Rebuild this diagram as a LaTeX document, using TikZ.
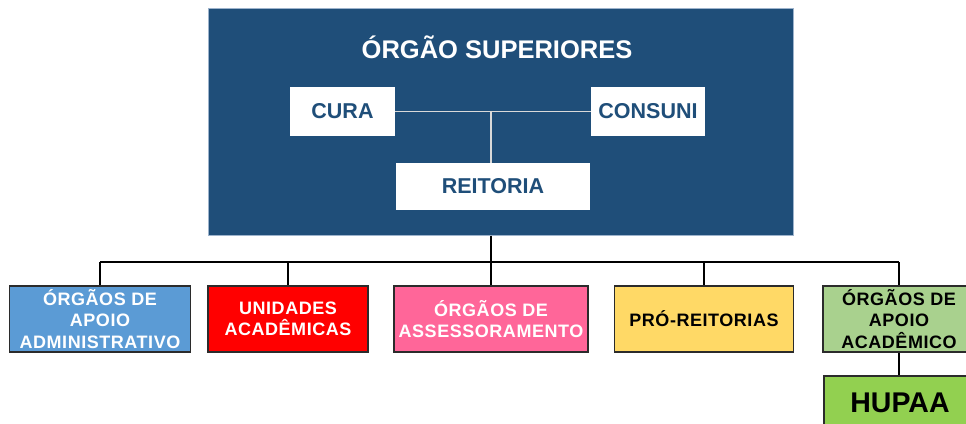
\documentclass[tikz,border=0pt]{standalone}
\usepackage{fontspec}
\setmainfont{Liberation Sans}
\definecolor{navy}{HTML}{1F4E79}
\definecolor{navyedge}{HTML}{9DB3CC}
\definecolor{admblue}{HTML}{5B9BD5}
\definecolor{unired}{HTML}{FF0000}
\definecolor{asspink}{HTML}{FF6699}
\definecolor{proyellow}{HTML}{FFD966}
\definecolor{acagreen}{HTML}{A9D18E}
\definecolor{hugreen}{HTML}{92D050}
\definecolor{edgegray}{HTML}{2B2B2B}
\definecolor{innerline}{HTML}{D9D9D9}
\tikzset{
  whitebox/.style={fill=white, draw=none, inner sep=0pt, text=navy,
    font=\fontsize{21.5}{25}\selectfont\bfseries, minimum height=49pt},
  lowbox/.style={draw=edgegray, line width=1.3pt, inner sep=0pt, align=center,
    minimum height=66pt, font=\fontsize{18}{21.5}\selectfont\bfseries\addfontfeature{LetterSpace=3}},
  innerlink/.style={draw=innerline, line width=1.2pt},
  outerlink/.style={draw=black, line width=1.4pt},
}
\begin{document}
\begin{tikzpicture}[x=1pt,y=-1pt]
\useasboundingbox (0,0) rectangle (966,423);
\fill[white] (0,0) rectangle (966,423);

% top block
\node[fill=navy, draw=navyedge, line width=0.6pt, minimum width=585pt, minimum height=227pt, inner sep=0pt] (top) at (500.5,121.5) {};
\node[text=white, font=\fontsize{25.5}{30}\selectfont\bfseries] (title) at (497,47) {ÓRGÃO SUPERIORES};
\node[whitebox, minimum width=105pt] (cura) at (342.5,111.5) {CURA};
\node[whitebox, minimum width=114pt] (consuni) at (648,111.5) {CONSUNI};
\node[whitebox, minimum width=194pt, minimum height=47pt] (reit) at (493,186.5) {REITORIA};

\coordinate (mid) at (491,111.5);
\draw[innerlink] (cura.east) -- (consuni.west);
\draw[innerlink] (mid) -- (mid |- reit.north);

% lower level
\node[lowbox, fill=admblue, text=white, minimum width=181pt] (adm) at (100,319) {ÓRGÃOS DE\\APOIO\\ADMINISTRATIVO};
\node[lowbox, fill=unired, text=white, minimum width=160pt] (uni) at (288,319) {UNIDADES\\ACADÊMICAS};
\node[lowbox, fill=asspink, text=white, minimum width=194pt] (ass) at (491,319) {ÓRGÃOS DE\\ASSESSORAMENTO};
\node[lowbox, fill=proyellow, text=black, minimum width=179pt] (pro) at (704,319) {PRÓ-REITORIAS};
\node[lowbox, fill=acagreen, text=black, minimum width=152pt] (aca) at (899,319) {ÓRGÃOS DE\\APOIO\\ACADÊMICO};
\node[lowbox, fill=hugreen, text=black, minimum width=152pt, minimum height=54pt,
      font=\fontsize{28.5}{32}\selectfont\bfseries] (hupaa) at (900,403) {HUPAA};

\coordinate (bus) at (491,262);
\draw[outerlink] (491,235.5) -- (bus);
\draw[outerlink] (adm.north |- bus) -- (aca.north |- bus);
\foreach \b in {adm,uni,ass,pro,aca}
  \draw[outerlink] (\b.north |- bus) -- (\b.north);
\draw[outerlink] (aca.south) -- (aca.south |- hupaa.north);
\end{tikzpicture}
\end{document}
